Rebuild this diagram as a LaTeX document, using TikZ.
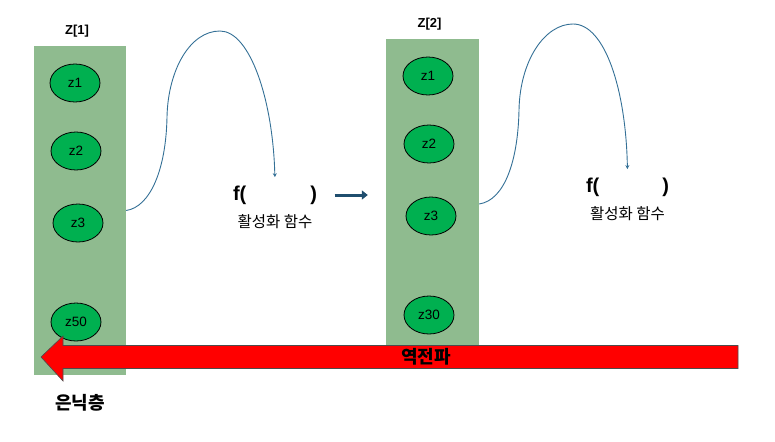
\documentclass[tikz,border=0pt]{standalone}
\usepackage{fontspec}
\setmainfont{Liberation Sans}
\newfontfamily\kr{Noto Sans CJK KR}
\usetikzlibrary{positioning,shapes.geometric,arrows.meta}

\definecolor{layer}{RGB}{143,187,143}
\definecolor{unit}{RGB}{0,176,80}
\definecolor{curve}{RGB}{52,112,150}
\definecolor{navy}{RGB}{31,78,110}

\tikzset{
  layerbox/.style={fill=layer,minimum width=92pt,inner sep=0pt},
  unitnode/.style={ellipse,draw=black,thick,fill=unit,minimum width=50pt,minimum height=38pt,inner sep=0pt,font=\fontsize{13.5}{15}\selectfont},
  funcnode/.style={font=\fontsize{20}{22}\selectfont\bfseries},
  krlabel/.style={font=\kr\fontsize{15.5}{17}\selectfont},
  bigkr/.style={font=\kr\fontsize{18}{20}\selectfont\bfseries},
  toplabel/.style={font=\fontsize{13}{15}\selectfont\bfseries},
  flow/.style={draw=curve,line width=0.9pt,-{Stealth[length=4pt,width=4pt]}},
}

\begin{document}
\begin{tikzpicture}[x=1pt,y=-1pt]
\useasboundingbox (0,0) rectangle (775,441);
% hidden layers
\node[layerbox,minimum height=329pt] (h1) at (80,210.5) {};
\node[layerbox,minimum width=93pt,minimum height=330pt] (h2) at (432.5,204) {};
\node[toplabel,above=5pt of h1,xshift=-3pt] (t1) {Z[1]};
\node[toplabel,above=5pt of h2,xshift=-3pt] (t2) {Z[2]};
% units
\node[unitnode] (a1) at (75,83) {z1};
\node[unitnode] (a2) at (76,151) {z2};
\node[unitnode] (a3) at (78,223) {z3};
\node[unitnode] (a50) at (76,322) {z50};
\node[unitnode] (b1) at (428,76) {z1};
\node[unitnode] (b2) at (429,144) {z2};
\node[unitnode] (b3) at (431,216) {z3};
\node[unitnode] (b30) at (429,315) {z30};
% activation
\node[funcnode] (f1) at (275,195) {f(\hspace{64pt})};
\node[funcnode] (f2) at (627.5,187) {f(\hspace{63pt})};
\node[krlabel,below=3pt of f1] (g1) {활성화 함수};
\node[krlabel,below=3pt of f2] (g2) {활성화 함수};
\draw[flow,shorten >=5pt] (h1.east) .. controls (150,207) and (166,170) .. (167,117)
  .. controls (168,70) and (190,31) .. (220,31)
  .. controls (250,31) and (273,100) .. (f1.north);
\draw[flow,shorten >=5pt] (h2.east) .. controls (505,200) and (518,160) .. (519,110)
  .. controls (520,60) and (545,24) .. (573,24)
  .. controls (605,24) and (626,90) .. (f2.north);
\draw[navy,line width=3pt,-{Triangle[length=6pt,width=9pt]},shorten <=14pt,shorten >=18pt] (f1.east) -- (f1.east -| h2.west);
% backpropagation
\coordinate (tailtop) at (738,345.5);
\coordinate (tailbot) at (738,368.5);
\coordinate (tip) at (41,357);
\draw[fill=red,draw=black!70,line width=0.6pt] (tailtop) -- (63,345.5) -- (63,336) -- (tip)
  -- (63,381) -- (63,368.5) -- (tailbot) -- cycle;
\node[bigkr] (bp) at (426,357) {역전파};
\node[bigkr,below=16pt of h1] (hid) {은닉층};
\end{tikzpicture}
\end{document}
